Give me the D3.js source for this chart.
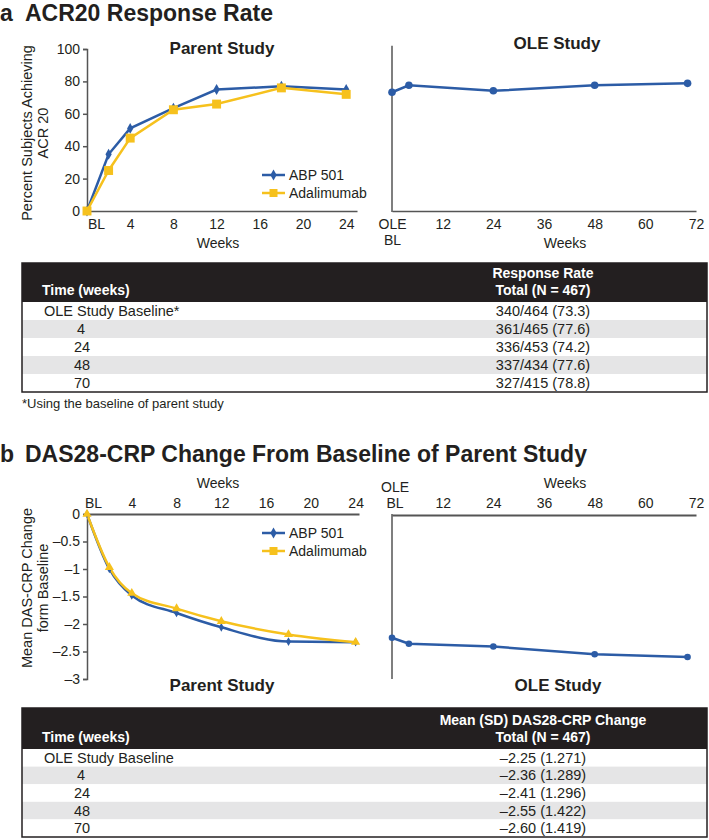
<!DOCTYPE html>
<html><head><meta charset="utf-8">
<script src="https://cdn.jsdelivr.net/npm/d3@7"></script>
<style>body{margin:0;background:#fff} text{font-family:"Liberation Sans",Arial,Helvetica,sans-serif;fill:#231f20}</style>
</head><body><svg id="c" width="709" height="840"></svg>
<script>
// ---------- data ----------
const parentWeeks = [0, 2, 4, 8, 12, 18, 24];
const acrABP = [0, 35, 51, 63.5, 75, 77, 75];
const acrAda = [0, 25, 45, 62.5, 66, 76, 72];
const oleWeeks = [0, 4, 24, 48, 70];
const acrOLE = [73.3, 77.6, 74.2, 77.6, 78.8];
const dasABP = [0, -1.00, -1.48, -1.80, -2.06, -2.32, -2.33];
const dasAda = [0, -0.97, -1.44, -1.72, -1.95, -2.19, -2.33];
const dasOLE = [-2.25, -2.36, -2.41, -2.55, -2.60];
const parentTicks = [0, 4, 8, 12, 16, 20, 24];
const oleTicks = [0, 12, 24, 36, 48, 60, 72];
const acrYTicks = [0, 20, 40, 60, 80, 100];
const dasYTicks = [0, -0.5, -1, -1.5, -2, -2.5, -3];
const seriesNames = ["ABP 501", "Adalimumab"];
const acrTimes = ["OLE Study Baseline*", "4", "24", "48", "70"];
const acrTable = ["340/464 (73.3)", "361/465 (77.6)", "336/453 (74.2)", "337/434 (77.6)", "327/415 (78.8)"];
const dasTimes = ["OLE Study Baseline", "4", "24", "48", "70"];
const dasTable = ["\u20132.25 (1.271)", "\u20132.36 (1.289)", "\u20132.41 (1.296)", "\u20132.55 (1.422)", "\u20132.60 (1.419)"];

// ---------- styles ----------
const BLUE = "#2c5ca6", YELLOW = "#f6c11d", AXIS = "#555", DARK = "#231f20";
const svg = d3.select("#c");
const zip = (xs, ys) => xs.map((x, i) => [x, ys[i]]);

function txt(g, x, y, s, o = {}) {
  return g.append("text").attr("x", x).attr("y", y).text(s)
    .attr("font-size", o.size || 14).attr("font-weight", o.bold ? "bold" : null)
    .attr("text-anchor", o.anchor || "start").style("fill", o.fill || DARK);
}

// Titles
txt(svg, 0, 21, "a", {size: 23, bold: true});
txt(svg, 25, 21, "ACR20 Response Rate", {size: 23, bold: true});
txt(svg, 0, 462, "b", {size: 23, bold: true});
txt(svg, 25, 462, "DAS28-CRP Change From Baseline of Parent Study", {size: 23, bold: true});

// ================= Panel a =================
const xA = d3.scaleLinear([0, 25], [87, 357]);
const yA = d3.scaleLinear([0, 100], [211, 49]);
const xAo = d3.scaleLinear([0, 72], [392, 696]);

const gyA = svg.append("g").attr("transform", `translate(${xA(0)},0)`)
  .call(d3.axisLeft(yA).tickValues(acrYTicks).tickSize(4).tickPadding(3));
const gxA = svg.append("g").attr("transform", `translate(0,${yA(0)})`)
  .call(d3.axisBottom(xA).tickValues(parentTicks).tickSize(0).tickPadding(8)
    .tickFormat(d => d === 0 ? "BL" : d));
gxA.selectAll(".tick text").filter(d => d === 0).attr("dx", 9);
const gyAo = svg.append("line").attr("x1", xAo(0)).attr("x2", xAo(0)).attr("y1", yA(0) + 1).attr("y2", yA(102));
const gxAo = svg.append("g").attr("transform", `translate(0,${yA(0)})`)
  .call(d3.axisBottom(xAo).tickValues(oleTicks).tickSize(0).tickPadding(8)
    .tickFormat(d => d === 0 ? "OLE" : d));
gxAo.selectAll(".tick").filter(d => d === 0).append("text").attr("y", 24).attr("dy", "0.71em").text("BL");

[gyA, gxA, gxAo].forEach(g => {
  g.selectAll(".domain,line").attr("stroke", AXIS).attr("stroke-width", 1.5);
  g.selectAll("text").attr("font-size", 14).style("fill", DARK).attr("font-family", null);
});
gyAo.attr("stroke", AXIS).attr("stroke-width", 1.5);

txt(svg, 218, 248, "Weeks", {anchor: "middle"});
txt(svg, 565, 248, "Weeks", {anchor: "middle"});
txt(svg, 222, 54, "Parent Study", {size: 17, bold: true, anchor: "middle"});
txt(svg, 557, 49, "OLE Study", {size: 17, bold: true, anchor: "middle"});
const yla = svg.append("g").attr("transform", "translate(0,133) rotate(-90)");
txt(yla, 0, 32, "Percent Subjects Achieving", {size: 14.5, anchor: "middle"});
txt(yla, 0, 48, "ACR 20", {size: 14.5, anchor: "middle"});

const lineA = d3.line().x(d => xA(d[0])).y(d => yA(d[1]));
svg.append("path").attr("d", lineA(zip(parentWeeks, acrABP))).attr("fill", "none").attr("stroke", BLUE).attr("stroke-width", 2.5);
svg.append("path").attr("d", lineA(zip(parentWeeks, acrAda))).attr("fill", "none").attr("stroke", YELLOW).attr("stroke-width", 2.5);
svg.append("g").selectAll("path").data(zip(parentWeeks, acrABP)).join("path")
  .attr("transform", d => `translate(${xA(d[0])},${yA(d[1])})`)
  .attr("d", d3.symbol(d3.symbolDiamond, 34)).attr("fill", BLUE);
svg.append("g").selectAll("path").data(zip(parentWeeks, acrAda)).join("path")
  .attr("transform", d => `translate(${xA(d[0])},${yA(d[1])})`)
  .attr("d", d3.symbol(d3.symbolSquare, 80)).attr("fill", YELLOW);
const lineAo = d3.line().x(d => xAo(d[0])).y(d => yA(d[1]));
svg.append("path").attr("d", lineAo(zip(oleWeeks, acrOLE))).attr("fill", "none").attr("stroke", BLUE).attr("stroke-width", 2.5);
svg.append("g").selectAll("circle").data(zip(oleWeeks, acrOLE)).join("circle")
  .attr("cx", d => xAo(d[0])).attr("cy", d => yA(d[1])).attr("r", 3.8).attr("fill", BLUE);

function legend(y0, markers) {
  const g = svg.append("g");
  seriesNames.forEach((n, i) => {
    const y = y0 + i * 18;
    const c = i === 0 ? BLUE : YELLOW;
    g.append("line").attr("x1", 262).attr("x2", 285).attr("y1", y).attr("y2", y).attr("stroke", c).attr("stroke-width", 2.5);
    g.append("path").attr("transform", `translate(273.5,${y})`).attr("d", markers[i]).attr("fill", c);
    txt(g, 289, y + 5, n, {size: 14});
  });
}
legend(175, [d3.symbol(d3.symbolDiamond, 34)(), d3.symbol(d3.symbolSquare, 64)()]);

// ================= Panel b =================
const xB = d3.scaleLinear([0, 24.3], [87, 359]);
const yB = d3.scaleLinear([0, -3], [514, 679]);
const xBo = d3.scaleLinear([0, 72], [392, 696]);
const dashFmt = d => d === 0 ? "0" : "\u2013" + Math.abs(d);

const gyB = svg.append("g").attr("transform", `translate(${xB(0)},0)`)
  .call(d3.axisLeft(yB).tickValues(dasYTicks).tickSize(4).tickPadding(3).tickFormat(dashFmt));
const gxB = svg.append("g").attr("transform", `translate(0,${yB(0)})`)
  .call(d3.axisTop(xB).tickValues(parentTicks).tickSize(0).tickPadding(6)
    .tickFormat(d => d === 0 ? "BL" : d));
gxB.selectAll(".tick text").filter(d => d === 0).attr("dx", 6);
const gxBo = svg.append("g").attr("transform", `translate(0,${yB(0) + 1})`)
  .call(d3.axisTop(xBo).tickValues(oleTicks).tickSize(0).tickPadding(7)
    .tickFormat(d => d === 0 ? "BL" : d));
gxBo.selectAll(".tick").filter(d => d === 0).attr("transform", `translate(${xBo(0) + 3},0)`)
  .append("text").attr("y", -23).text("OLE");
const gyBo = svg.append("line").attr("x1", xBo(0)).attr("x2", xBo(0)).attr("y1", yB(0)).attr("y2", yB(-3));
[gyB, gxB, gxBo].forEach(g => {
  g.selectAll(".domain,line").attr("stroke", AXIS).attr("stroke-width", 1.5);
  g.selectAll("text").attr("font-size", 14).style("fill", DARK).attr("font-family", null);
});
gxB.select(".domain").attr("stroke-width", 2);
gxBo.select(".domain").attr("stroke-width", 2);
gyBo.attr("stroke", AXIS).attr("stroke-width", 1.5);

txt(svg, 218, 488, "Weeks", {anchor: "middle"});
txt(svg, 565, 488, "Weeks", {anchor: "middle"});
txt(svg, 222, 691, "Parent Study", {size: 17, bold: true, anchor: "middle"});
txt(svg, 558, 691, "OLE Study", {size: 17, bold: true, anchor: "middle"});
const ylb = svg.append("g").attr("transform", "translate(0,588) rotate(-90)");
txt(ylb, 0, 32, "Mean DAS-CRP Change", {size: 14.5, anchor: "middle"});
txt(ylb, 0, 48, "form Baseline", {size: 14.5, anchor: "middle"});

const lineB = d3.line().x(d => xB(d[0])).y(d => yB(d[1])).curve(d3.curveMonotoneX);
svg.append("path").attr("d", lineB(zip(parentWeeks, dasABP))).attr("fill", "none").attr("stroke", BLUE).attr("stroke-width", 2.5);
svg.append("path").attr("d", lineB(zip(parentWeeks, dasAda))).attr("fill", "none").attr("stroke", YELLOW).attr("stroke-width", 2.5);
svg.append("g").selectAll("path").data(zip(parentWeeks, dasABP)).join("path")
  .attr("transform", d => `translate(${xB(d[0])},${yB(d[1])})`)
  .attr("d", d3.symbol(d3.symbolDiamond, 22)).attr("fill", BLUE);
svg.append("g").selectAll("path").data(zip(parentWeeks, dasAda)).join("path")
  .attr("transform", d => `translate(${xB(d[0])},${yB(d[1])})`)
  .attr("d", d3.symbol(d3.symbolTriangle, 36)).attr("fill", YELLOW);
const lineBo = d3.line().x(d => xBo(d[0])).y(d => yB(d[1]));
svg.append("path").attr("d", lineBo(zip(oleWeeks, dasOLE))).attr("fill", "none").attr("stroke", BLUE).attr("stroke-width", 2.5);
svg.append("g").selectAll("circle").data(zip(oleWeeks, dasOLE)).join("circle")
  .attr("cx", d => xBo(d[0])).attr("cy", d => yB(d[1])).attr("r", 3.3).attr("fill", BLUE);
legend(533, [d3.symbol(d3.symbolDiamond, 34)(), d3.symbol(d3.symbolSquare, 64)()]);

// ================= Tables =================
function table(top, headH, rowH, head1, head2, times, vals) {
  const g = svg.append("g");
  const L = 22, R = 707, mid = 543;
  g.append("rect").attr("x", L).attr("y", top).attr("width", R - L).attr("height", headH).attr("fill", DARK);
  times.forEach((t, i) => {
    const y = top + headH + i * rowH;
    g.append("rect").attr("x", L).attr("y", y).attr("width", R - L).attr("height", rowH)
      .attr("fill", i % 2 === 1 ? "#e5e5e6" : "#fff");
    txt(g, t.length > 2 ? 44 : (t.length === 1 ? 77 : 74), y + rowH / 2 + 5, t, {size: 14.5});
    txt(g, mid, y + rowH / 2 + 5, vals[i], {size: 14.5, anchor: "middle"});
  });
  g.append("rect").attr("x", L).attr("y", top).attr("width", R - L).attr("height", headH + times.length * rowH)
    .attr("fill", "none").attr("stroke", DARK).attr("stroke-width", 1.5);
  txt(g, 42, top + headH - 7, "Time (weeks)", {size: 14, bold: true, fill: "#fff"});
  txt(g, mid, top + headH - 24, head1, {size: 14, bold: true, anchor: "middle", fill: "#fff"});
  txt(g, mid, top + headH - 7, head2, {size: 14, bold: true, anchor: "middle", fill: "#fff"});
}
table(263, 39, 18, "Response Rate", "Total (N = 467)", acrTimes, acrTable);
txt(svg, 22, 408, "*Using the baseline of parent study", {size: 13});
table(708, 41, 17.6, "Mean (SD) DAS28-CRP Change", "Total (N = 467)", dasTimes, dasTable);
</script></body></html>
